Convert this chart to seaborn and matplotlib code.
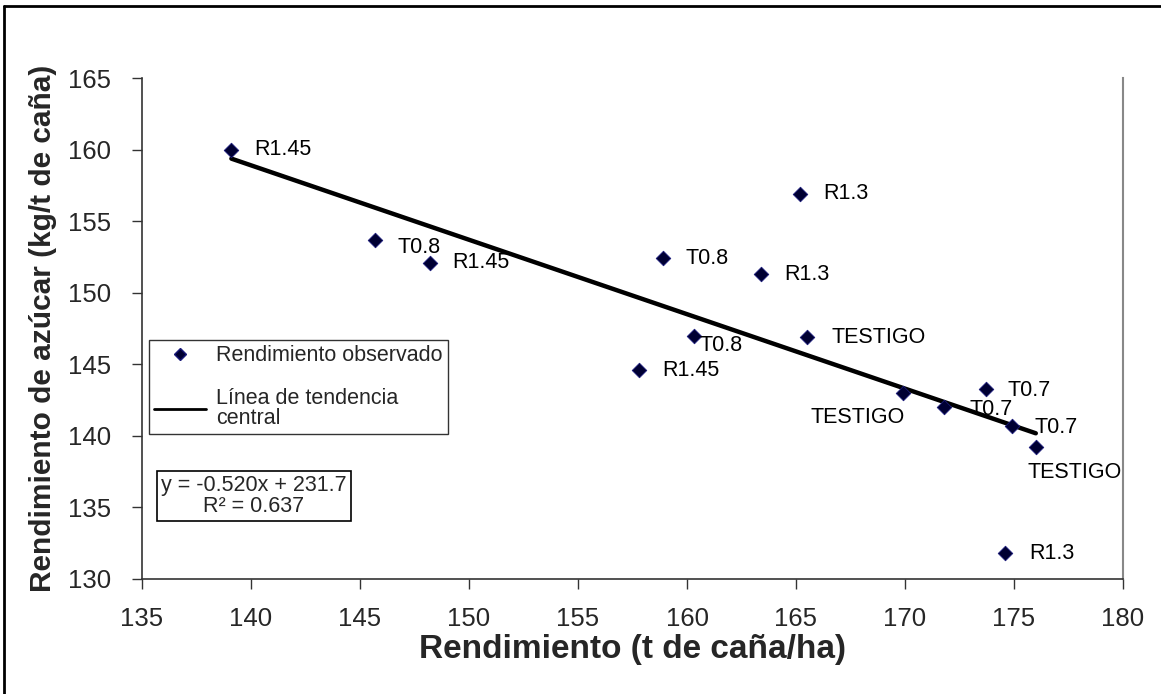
import matplotlib
matplotlib.use("Agg")
import matplotlib.pyplot as plt
import matplotlib.lines as mlines
import seaborn as sns
import numpy as np
import pandas as pd

# ---- data ----
rend_cana = [139.1, 145.7, 148.2, 158.9, 163.4, 165.2, 160.3, 157.8,
             165.5, 169.9, 171.8, 173.7, 174.9, 176.0, 174.6]
rend_azucar = [160.0, 153.7, 152.1, 152.4, 151.3, 156.9, 147.0, 144.6,
               146.9, 143.0, 142.0, 143.3, 140.7, 139.2, 131.8]
tratamiento = ["R1.45", "T0.8", "R1.45", "T0.8", "R1.3", "R1.3", "T0.8", "R1.45",
               "TESTIGO", "TESTIGO", "T0.7", "T0.7", "T0.7", "TESTIGO", "R1.3"]
pendiente = -0.520
intercepto = 231.7
r2 = 0.637
x_ticks = [135, 140, 145, 150, 155, 160, 165, 170, 175, 180]
y_ticks = [130, 135, 140, 145, 150, 155, 160, 165]

df = pd.DataFrame({"x": rend_cana, "y": rend_azucar, "lab": tratamiento})
x_line = np.array([min(rend_cana), max(rend_cana)])
line_df = pd.DataFrame({"x": x_line, "y": pendiente * x_line + intercepto})

# label offsets in pixels (dx right, dy down), alignment
offs = [(23, 0, "left"), (22, 8, "left"), (22, 0, "left"), (22, 0, "left"),
        (23, 0, "left"), (23, 0, "left"), (6, 10, "left"), (23, 0, "left"),
        (25, 0, "left"), (2, 25, "right"), (25, 2, "left"), (22, 2, "left"),
        (23, 2, "left"), (-8, 25, "left"), (24, 0, "left")]

sns.set_style("white")
plt.rcParams["font.family"] = ["Liberation Sans", "DejaVu Sans"]

W, H = 1161, 694
fig = plt.figure(figsize=(W / 100, H / 100), dpi=100)
ax = fig.add_axes([142 / W, 1 - 579 / H, (1123 - 142) / W, (579 - 78) / H])

sns.lineplot(data=line_df, x="x", y="y", ax=ax, color="black", linewidth=3.2,
             legend=False, zorder=2)
sns.scatterplot(data=df, x="x", y="y", ax=ax, marker="D", s=55,
                color="#000033", edgecolor="#1a1a7a", linewidth=0.6,
                legend=False, zorder=3)

px = 0.72
for xi, yi, lab, (dx, dy, ha) in zip(rend_cana, rend_azucar, tratamiento, offs):
    ax.annotate(lab, (xi, yi), xytext=(dx * px, -dy * px), textcoords="offset points",
                ha=ha, va="center", fontsize=15.5, color="black", zorder=4)

ax.set_xlim(135, 180)
ax.set_ylim(130, 165)
ax.set_xticks(x_ticks)
ax.set_yticks(y_ticks)
ax.tick_params(axis="both", labelsize=18.5, direction="out", length=7, width=1,
               color="#333333", bottom=True, left=True)
ax.tick_params(axis="x", pad=13)
ax.tick_params(axis="y", pad=15)
ax.spines["top"].set_visible(False)
ax.spines["right"].set_color("#888888")
ax.spines["right"].set_linewidth(1.5)
for s in ["left", "bottom"]:
    ax.spines[s].set_color("#333333")
    ax.spines[s].set_linewidth(1.2)

ax.set_xlabel("Rendimiento (t de caña/ha)", fontsize=24, fontweight="bold", labelpad=2)
ax.set_ylabel("Rendimiento de azúcar (kg/t de caña)", fontsize=21.5, fontweight="bold",
              labelpad=8)

# legend
h1 = mlines.Line2D([], [], color="#000033", marker="D", markersize=6.5, linestyle="none",
                   markeredgecolor="#1a1a7a")
h2 = mlines.Line2D([], [], color="black", linewidth=2)
leg = fig.legend([h1, h2], ["Rendimiento observado", "Línea de tendencia\ncentral"],
                 loc="upper left", bbox_to_anchor=(149 / W, 1 - 340 / H),
                 frameon=True, fancybox=False, edgecolor="black", fontsize=15.5,
                 handlelength=2.4, handletextpad=0.45, borderpad=0.25,
                 labelspacing=1.0, borderaxespad=0)
leg.get_frame().set_linewidth(1.0)
for t in leg.get_texts():
    t.set_linespacing(0.95)

# equation box
ax.text(0.114, 0.166, f"y = {pendiente:.3f}x + {intercepto}\nR² = {r2}",
        transform=ax.transAxes, ha="center", va="center", fontsize=15.5,
        linespacing=1.0,
        bbox=dict(boxstyle="square,pad=0.2", facecolor="white", edgecolor="black",
                  linewidth=1.2))

# outer frame (top and left visible)
fig.add_artist(mlines.Line2D([4 / W, 1.0], [1 - 6 / H, 1 - 6 / H], color="black",
                             linewidth=2, transform=fig.transFigure))
fig.add_artist(mlines.Line2D([4 / W, 4 / W], [0, 1 - 6 / H], color="black",
                             linewidth=2, transform=fig.transFigure))

fig.savefig("out.png", dpi=100)
